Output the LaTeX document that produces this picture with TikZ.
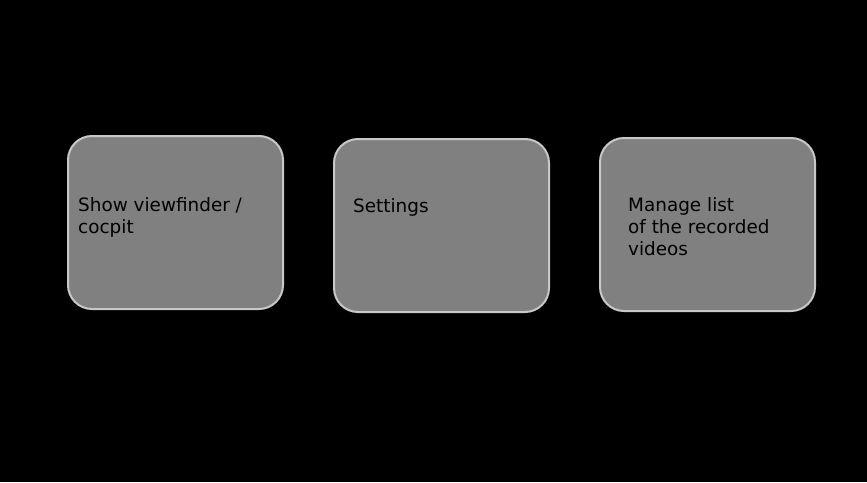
\documentclass[tikz,border=0pt]{standalone}
\usepackage{fontspec}
\setmainfont{DejaVu Sans}
\begin{document}
\begin{tikzpicture}[x=1pt,y=-1pt,
  card/.style={draw=boxline,line width=2pt,fill=boxfill,rounded corners=24pt},
  lbl/.style={anchor=base west,inner sep=0pt,align=left,text=black,
    font=\fontsize{18.4}{22}\selectfont}]
\definecolor{boxfill}{HTML}{808080}
\definecolor{boxline}{HTML}{C8C8C8}
\fill[black] (0,0) rectangle (867,482);
\useasboundingbox (0,0) rectangle (867,482);
\draw[card] (68,136) rectangle (283,309);
\draw[card] (334,139) rectangle (549,312);
\draw[card] (600,138) rectangle (815,311);
\node[lbl] (t1) at (78,233) {Show viewfinder /\\cocpit};
\node[lbl] (t2) at (353,212) {Settings};
\node[lbl] (t3) at (628,255) {Manage list\\of the recorded\\videos};
\end{tikzpicture}
\end{document}
